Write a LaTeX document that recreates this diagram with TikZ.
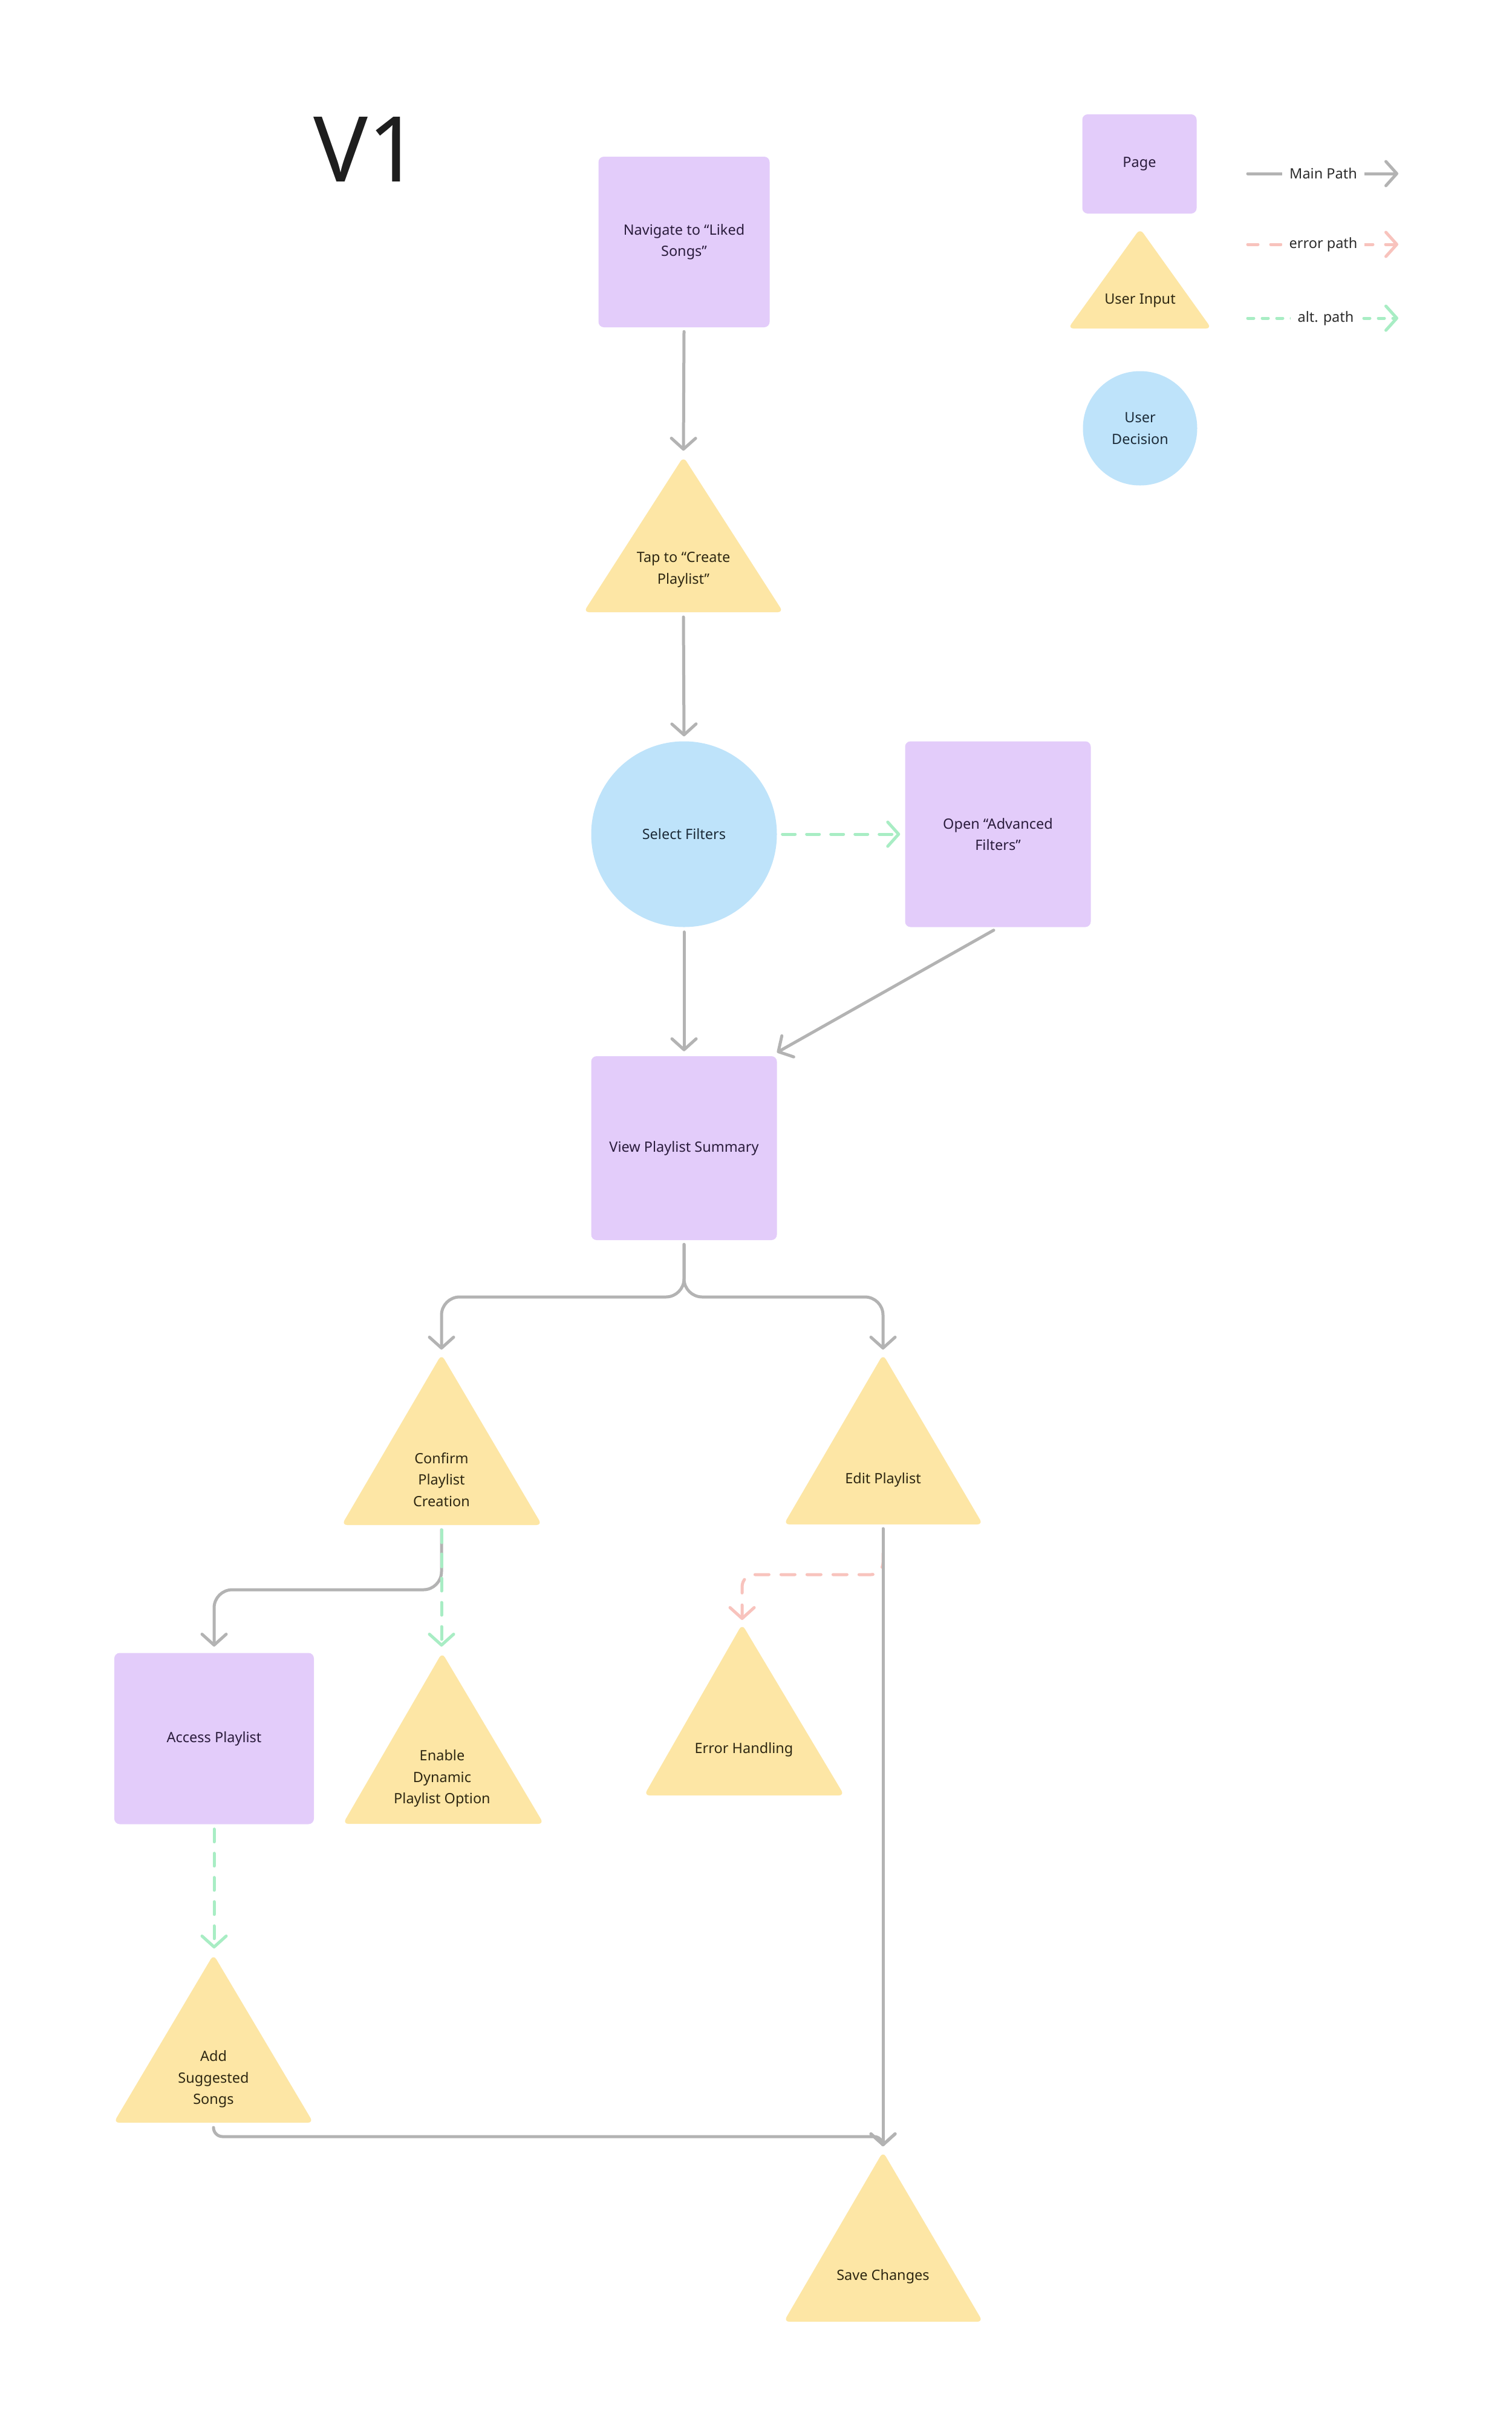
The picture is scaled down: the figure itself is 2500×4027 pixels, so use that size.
\documentclass[tikz,border=0pt]{standalone}
\usepackage{fontspec}
\setmainfont{Noto Sans}
\usetikzlibrary{arrows.meta}
\definecolor{pagefill}{HTML}{E3CCFA}
\definecolor{trifill}{HTML}{FDE6A5}
\definecolor{decfill}{HTML}{BEE3FA}
\definecolor{maingray}{HTML}{B3B3B3}
\definecolor{altgreen}{HTML}{A8EDC4}
\definecolor{errred}{HTML}{F8C3BD}
\definecolor{pagetext}{HTML}{2A1C3C}
\definecolor{tritext}{HTML}{2E2712}
\definecolor{dectext}{HTML}{1C2B38}
\definecolor{legtext}{HTML}{2B2B2B}
\definecolor{titletext}{HTML}{1E1E1E}
\begin{document}
\begin{tikzpicture}[x=1pt,y=-1pt,
  every node/.style={font=\fontsize{23.5}{35.5}\selectfont, align=center, inner sep=0pt},
  pagebox/.style={rectangle, fill=pagefill, rounded corners=9pt, text=pagetext},
  decbox/.style={circle, fill=decfill, text=dectext},
  tritxt/.style={text=tritext},
  trishape/.style={fill=trifill, rounded corners=9pt},
  legtxt/.style={text=legtext, fill=white, inner xsep=12pt, inner ysep=4pt},
  tipstyle/.style={-{Straight Barb[length=18pt,width=40pt,round]}},
  mainpath/.style={draw=maingray, line width=5pt, line cap=round, tipstyle},
  altpath/.style={draw=altgreen, line width=5pt, line cap=round, dash pattern=on 21pt off 19pt, tipstyle},
  errpath/.style={draw=errred, line width=5pt, line cap=round, dash pattern=on 23pt off 20pt, tipstyle},
]
\useasboundingbox[fill=white] (0,0) rectangle (2500,4027);

% ---------- title ----------
\node[anchor=base west, font=\fontsize{150}{150}\selectfont, text=titletext] (title) at (518,300) {V1};

% ---------- triangle shapes ----------
\fill[trishape] (1885,378) -- (2003,543) -- (1766,543) -- cycle;   % legend
\fill[trishape] (1130,755) -- (1295,1012) -- (965,1012) -- cycle;  % tap
\fill[trishape] (730,2239) -- (896,2521) -- (565,2521) -- cycle;   % confirm
\fill[trishape] (1460,2239) -- (1625,2520) -- (1296,2520) -- cycle;% edit
\fill[trishape] (731,2732) -- (899,3015) -- (567,3015) -- cycle;   % enable
\fill[trishape] (1227,2685) -- (1396,2968) -- (1065,2968) -- cycle;% error
\fill[trishape] (353,3231) -- (518,3509) -- (188,3509) -- cycle;   % add
\fill[trishape] (1460,3557) -- (1625,3838) -- (1296,3838) -- cycle;% save

% ---------- nodes ----------
\node[pagebox, minimum width=283pt, minimum height=282pt] (nav) at (1131,400) {Navigate to “Liked\\Songs”};
\node[tritxt] (tap) at (1130,942) {Tap to “Create\\Playlist”};
\node[decbox, minimum size=307pt] (select) at (1131,1379) {Select Filters};
\node[pagebox, minimum width=307pt, minimum height=307pt] (open) at (1650,1379) {Open “Advanced\\Filters”};
\node[pagebox, minimum width=307pt, minimum height=304pt] (view) at (1131,1898) {View Playlist Summary};
\node[tritxt] (confirm) at (730,2446) {Confirm\\Playlist\\Creation};
\node[tritxt] (edit) at (1460,2446) {Edit Playlist};
\node[pagebox, minimum width=330pt, minimum height=283pt] (access) at (354,2874) {Access Playlist};
\node[tritxt] (enable) at (731,2940) {Enable\\Dynamic\\Playlist Option};
\node[tritxt] (error) at (1230,2892) {Error Handling};
\node[tritxt] (add) at (353,3437) {Add\\Suggested\\Songs};
\node[tritxt] (save) at (1460,3763) {Save Changes};

% ---------- legend ----------
\node[pagebox, minimum width=189pt, minimum height=164pt] (lpage) at (1884,271) {Page};
\node[tritxt] (linput) at (1885,497) {User Input};
\node[decbox, minimum size=189pt] (ldec) at (1885,708) {User\\Decision};

\coordinate (lmA) at (2063,287);  \coordinate (lmB) at (2312,287);
\coordinate (leA) at (2063,404);  \coordinate (leB) at (2312,404);
\coordinate (laA) at (2063,526);  \coordinate (laB) at (2312,526);
\draw[mainpath] (lmA) -- (lmB);
\draw[errpath, dash pattern=on 17pt off 21pt] (leA) -- (leB);
\draw[altpath, dash pattern=on 10pt off 14pt] (laA) -- (laB);
\node[legtxt] (lmain) at (2188,287) {Main Path};
\node[legtxt] (lerr) at (2188,404) {error path};
\node[legtxt] (lalt) at (2192,526) {alt. path};

% ---------- connector coordinates ----------
\coordinate (tapTop) at (1130,745);
\coordinate (tapBot) at (1130,1020);
\coordinate (fork) at (1131,2144);
\coordinate (confTop) at (730,2231);
\coordinate (editTop) at (1460,2231);
\coordinate (confBot) at (730,2529);
\coordinate (confJoin) at (730,2628);
\coordinate (accTop) at (354,2722);
\coordinate (enTop) at (730,2722);
\coordinate (editBot) at (1460,2527);
\coordinate (editErr) at (1460,2568);
\coordinate (errJoin) at (1460,2603);
\coordinate (errTop) at (1227,2678);
\coordinate (addTop) at (354,3221);
\coordinate (addBot) at (353,3517);
\coordinate (addJoin) at (353,3532);
\coordinate (saveJoin) at (1460,3532);
\coordinate (saveTop) at (1460,3548);

% ---------- connectors ----------
\draw[mainpath] ([yshift=-7pt]nav.south) -- (tapTop);
\draw[mainpath] (tapBot) -- ([yshift=8pt]select.north);
\draw[altpath] ([xshift=9pt]select.east) -- ([xshift=-8pt]open.west);
\draw[mainpath] ([yshift=-8pt]select.south) -- ([yshift=8pt]view.north);
\draw[mainpath] ([xshift=-7pt,yshift=-5pt]open.south) -- ([yshift=6pt]view.north east);
\draw[mainpath, rounded corners=30pt] ([yshift=-7pt]view.south) -- (fork) -| (confTop);
\draw[mainpath, rounded corners=30pt] ([yshift=-7pt]view.south) -- (fork) -| (editTop);
\draw[errpath, rounded corners=20pt] (editErr) -- (errJoin) -| (errTop);
\draw[mainpath] (editBot) -- (saveTop);
\draw[mainpath, rounded corners=30pt] (confBot) -- (confJoin) -| (accTop);
\draw[altpath] (confBot) -- (enTop);
\draw[altpath] ([yshift=-8pt]access.south) -- (addTop);
\draw[mainpath, rounded corners=15pt] (addBot) -- (addJoin) -- (saveJoin) -- (saveTop);
\end{tikzpicture}
\end{document}
